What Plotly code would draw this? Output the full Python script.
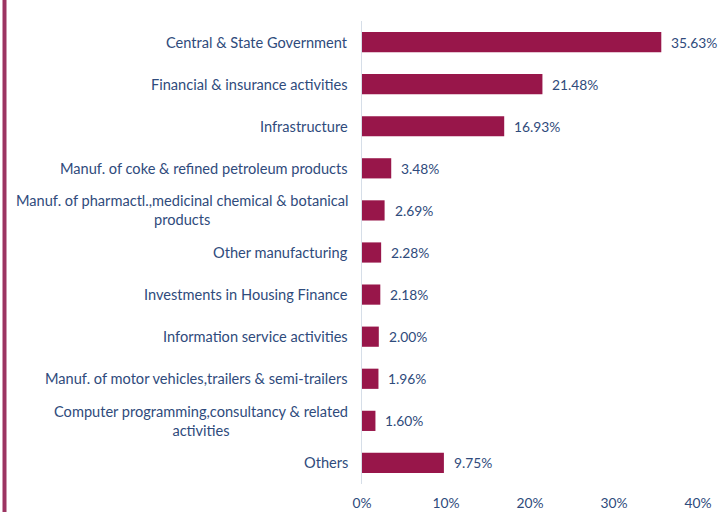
import plotly.graph_objects as go

# Sector-wise exposure, top to bottom
categories = [
    "Central & State Government",
    "Financial & insurance activities",
    "Infrastructure",
    "Manuf. of coke & refined petroleum products",
    "Manuf. of pharmactl.,medicinal chemical & botanical<br>products",
    "Other manufacturing",
    "Investments in Housing Finance",
    "Information service activities",
    "Manuf. of motor vehicles,trailers & semi-trailers",
    "Computer programming,consultancy & related<br>activities",
    "Others",
]
shares = [35.63, 21.48, 16.93, 3.48, 2.69, 2.28, 2.18, 2.00, 1.96, 1.60, 9.75]
x_ticks = [0, 10, 20, 30, 40]
x_tick_labels = ["0%", "10%", "20%", "30%", "40%"]

BAR = "#98164A"
TEXT = "#2F4B7C"
FONT = "Lato, 'Open Sans', sans-serif"
FS = 14.6
FS_VAL = 13.8

W, H = 718, 512
ML, MR, MT, MB = 362, 20, 21, 28

idx = list(range(len(categories)))

fig = go.Figure()
fig.add_trace(go.Bar(
    x=shares,
    y=idx,
    orientation="h",
    marker=dict(color=BAR, line=dict(width=0)),
    width=0.48,
    hoverinfo="skip",
))

# value labels beside each bar
for i, v in zip(idx, shares):
    fig.add_annotation(
        x=v, y=i, xref="x", yref="y",
        text=f"{v:.2f}%", showarrow=False,
        xanchor="left", yanchor="middle", xshift=8,
        font=dict(family=FONT, size=FS_VAL, color=TEXT),
    )

# category labels, right aligned to the axis, wrapped lines centred
for i, c in zip(idx, categories):
    fig.add_annotation(
        x=0, y=i, xref="paper", yref="y",
        text=c, showarrow=False,
        xanchor="right", yanchor="middle", align="center", xshift=-12,
        font=dict(family=FONT, size=FS, color=TEXT),
    )

# accent rule along the left edge of the page
plot_w = W - ML - MR
plot_h = H - MT - MB
px0 = (4.5 - ML) / plot_w
fig.add_shape(
    type="line", xref="paper", yref="paper",
    x0=px0, x1=px0, y0=-MB / plot_h - 0.01, y1=1 + MT / plot_h + 0.01,
    line=dict(color="#9C3462", width=4),
)

fig.update_layout(
    width=W, height=H,
    autosize=False,
    margin=dict(l=ML, r=MR, t=MT, b=MB, autoexpand=False),
    paper_bgcolor="white", plot_bgcolor="white",
    showlegend=False,
    font=dict(family=FONT, size=FS, color=TEXT),
    xaxis=dict(
        range=[0, 40], tickvals=x_ticks, ticktext=x_tick_labels,
        showgrid=False, zeroline=False, showline=False, ticks="",
        ticklabelstandoff=9,
        tickfont=dict(family=FONT, size=FS_VAL, color=TEXT),
        fixedrange=True,
    ),
    yaxis=dict(
        range=[len(categories) - 0.5, -0.5],
        showticklabels=False, showgrid=False, zeroline=False,
        showline=True, linecolor="#D6DEE8", linewidth=1, ticks="",
        fixedrange=True,
    ),
)

fig.write_html("out.html")
